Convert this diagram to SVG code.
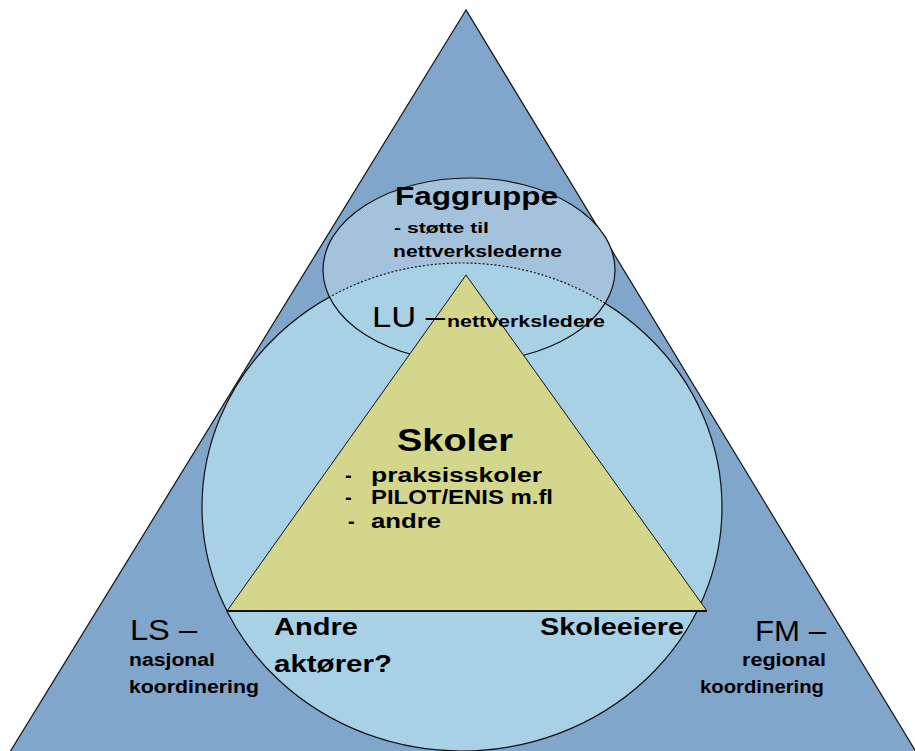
<svg xmlns="http://www.w3.org/2000/svg" width="915" height="751" viewBox="0 0 915 751">
<style>
.t{font-family:"Liberation Sans",Arial,sans-serif;fill:#000}
.b{font-weight:bold}
.ln{fill:none;stroke:#111;stroke-width:1.2}
</style>
<defs>
<pattern id="hatch" width="2" height="2" patternUnits="userSpaceOnUse">
<rect width="2" height="2" fill="#9cbcdc"/>
<rect width="1" height="1" fill="#abc8e3"/>
<rect x="1" y="1" width="1" height="1" fill="#abc8e3"/>
</pattern>
<clipPath id="smallClip"><ellipse cx="469" cy="270" rx="146" ry="92"/></clipPath>
<mask id="outsideSmall"><rect width="915" height="751" fill="#fff"/><ellipse cx="469" cy="270" rx="146" ry="92" fill="#000"/></mask>
</defs>
<rect width="915" height="751" fill="#fff"/>
<g id="outer">
<polygon points="466,10 5,760 921,760" fill="#80a6cc" stroke="#111" stroke-width="1.2"/>
</g>
<g id="faggruppe">
<ellipse cx="469" cy="270" rx="146" ry="92" fill="url(#hatch)"/>
</g>
<g id="lu">
<ellipse cx="462" cy="507" rx="260" ry="244" fill="#a9d1e5"/>
<ellipse cx="462" cy="507" rx="260" ry="244" class="ln" mask="url(#outsideSmall)"/>
<ellipse cx="462" cy="507" rx="260" ry="244" class="ln" stroke-dasharray="2,2" clip-path="url(#smallClip)"/>
<ellipse cx="469" cy="270" rx="146" ry="92" class="ln"/>
</g>
<g id="skoler">
<polygon points="466,275 227,611 707,611" fill="#d4d68c" stroke="#111" stroke-width="1"/>
<line x1="227" y1="611" x2="707" y2="611" stroke="#111" stroke-width="2"/>
</g>
<g id="labels">
<text class="t" x="395" y="205" font-size="25" font-weight="600" textLength="163" lengthAdjust="spacingAndGlyphs">Faggruppe</text>
<text class="t b" x="394" y="233" font-size="15" textLength="95" lengthAdjust="spacingAndGlyphs">- støtte til</text>
<text class="t b" x="393" y="257" font-size="16" textLength="169" lengthAdjust="spacingAndGlyphs">nettverkslederne</text>
<text class="t" x="372" y="327" font-size="29" textLength="73" lengthAdjust="spacingAndGlyphs">LU –</text>
<text class="t b" x="447" y="327" font-size="16" textLength="158" lengthAdjust="spacingAndGlyphs">nettverksledere</text>
<text class="t b" x="397" y="451" font-size="31" textLength="116" lengthAdjust="spacingAndGlyphs">Skoler</text>
<text class="t b" x="345" y="482" font-size="20">-</text>
<text class="t b" x="371" y="482" font-size="20" textLength="171" lengthAdjust="spacingAndGlyphs">praksisskoler</text>
<text class="t b" x="345" y="504" font-size="20">-</text>
<text class="t b" x="371" y="504" font-size="20" textLength="182" lengthAdjust="spacingAndGlyphs">PILOT/ENIS m.fl</text>
<text class="t b" x="348" y="528" font-size="20">-</text>
<text class="t b" x="371" y="528" font-size="20" textLength="70" lengthAdjust="spacingAndGlyphs">andre</text>
<text class="t b" x="274" y="635" font-size="23" textLength="84" lengthAdjust="spacingAndGlyphs">Andre</text>
<text class="t b" x="274" y="672" font-size="23" textLength="118" lengthAdjust="spacingAndGlyphs">aktører?</text>
<text class="t b" x="540" y="635" font-size="23" textLength="144" lengthAdjust="spacingAndGlyphs">Skoleeiere</text>
<text class="t" x="130" y="640" font-size="30" textLength="67" lengthAdjust="spacingAndGlyphs">LS –</text>
<text class="t b" x="129" y="666" font-size="18" textLength="86" lengthAdjust="spacingAndGlyphs">nasjonal</text>
<text class="t b" x="129" y="693" font-size="18" textLength="130" lengthAdjust="spacingAndGlyphs">koordinering</text>
<text class="t" x="755" y="641" font-size="30" textLength="71" lengthAdjust="spacingAndGlyphs">FM –</text>
<text class="t b" x="742" y="666" font-size="18" textLength="84" lengthAdjust="spacingAndGlyphs">regional</text>
<text class="t b" x="700" y="693" font-size="18" textLength="124" lengthAdjust="spacingAndGlyphs">koordinering</text>
</g>
</svg>
